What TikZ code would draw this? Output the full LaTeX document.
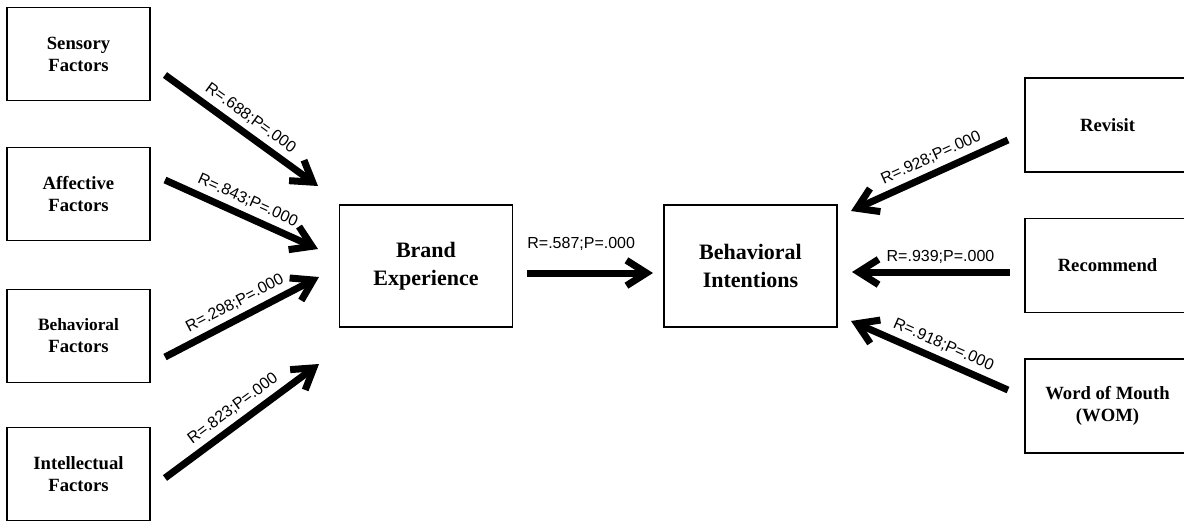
\documentclass[tikz,border=0pt]{standalone}
\usepackage{fontspec}
\setmainfont{Liberation Serif}
\newfontfamily\rpfont{Liberation Sans}
\usetikzlibrary{arrows.meta}
\begin{document}
\begin{tikzpicture}[x=0.75pt,y=-0.75pt]
	\tikzstyle{factor}=[draw, line width=1pt, minimum width=107.25pt, minimum height=69.75pt, align=center, font=\fontsize{14}{16.5}\selectfont\bfseries]
	\tikzstyle{core}=[factor, minimum width=130pt, minimum height=91.5pt, font=\fontsize{16.5}{21}\selectfont\bfseries]
	\tikzstyle{outcome}=[factor, minimum width=123.75pt, minimum height=70.5pt]
	\tikzstyle{link}=[line width=5.25pt, -{Straight Barb[length=15pt,width=19pt,sharp]}]
	\tikzstyle{rp}=[sloped, above=3pt, inner sep=1pt, font=\rpfont\fontsize{12}{14}\selectfont]
	
	\useasboundingbox (0,0) rectangle (1184,522);
	\clip (0,0) rectangle (1184,522);
	
	\node (sens) at (78.5,54) [factor] {Sensory\\Factors};
	\node (aff) at (78.5,194) [factor] {Affective\\Factors};
	\node (beh) at (78.5,336) [factor] {{\fontsize{13}{16.5}\selectfont Behavioral}\\Factors};
	\node (intel) at (78.5,474) [factor] {Intellectual\\Factors};
	
	\node (brand) at (426,266) [core] {Brand\\Experience};
	\node (intent) at (750.5,266) [core, minimum width=129.75pt] {Behavioral\\Intentions};
	
	\node (revisit) at (1107.5,125) [outcome] {Revisit};
	\node (recom) at (1107.5,265.5) [outcome] {Recommend};
	\node (wom) at (1107.5,406) [outcome] {Word of Mouth\\(WOM)};
	
	% arrow ends
	\coordinate (s0) at (165,75);   \coordinate (s1) at (318,186);
	\coordinate (a0) at (165,180);  \coordinate (a1) at (318,249);
	\coordinate (b0) at (165,357);  \coordinate (b1) at (319,277);
	\coordinate (i0) at (165,478);  \coordinate (i1) at (319,364);
	\coordinate (m0) at (527,273);  \coordinate (m1) at (653,273);
	\coordinate (v0) at (1008,140); \coordinate (v1) at (851,211);
	\coordinate (c0) at (1010,272); \coordinate (c1) at (852,272);
	\coordinate (w0) at (1008,390); \coordinate (w1) at (851,321);
	
	\draw[link] (s0) -- node[rp, pos=0.5] {R=.688;P=.000} (s1);
	\draw[link] (a0) -- node[rp, pos=0.5] {R=.843;P=.000} (a1);
	\draw[link] (b0) -- node[rp, pos=0.5] {R=.298;P=.000} (b1);
	\draw[link] (i0) -- node[rp, pos=0.5] {R=.823;P=.000} (i1);
	\draw[link] (m0) -- node[rp, pos=0.43, above=10pt] {R=.587;P=.000} (m1);
	\draw[link] (v0) -- node[rp, pos=0.45] {R=.928;P=.000} (v1);
	\draw[link] (c0) -- node[rp, pos=0.44] {R=.939;P=.000} (c1);
	\draw[link] (w0) -- node[rp, pos=0.45] {R=.918;P=.000} (w1);
\end{tikzpicture}
\end{document}
